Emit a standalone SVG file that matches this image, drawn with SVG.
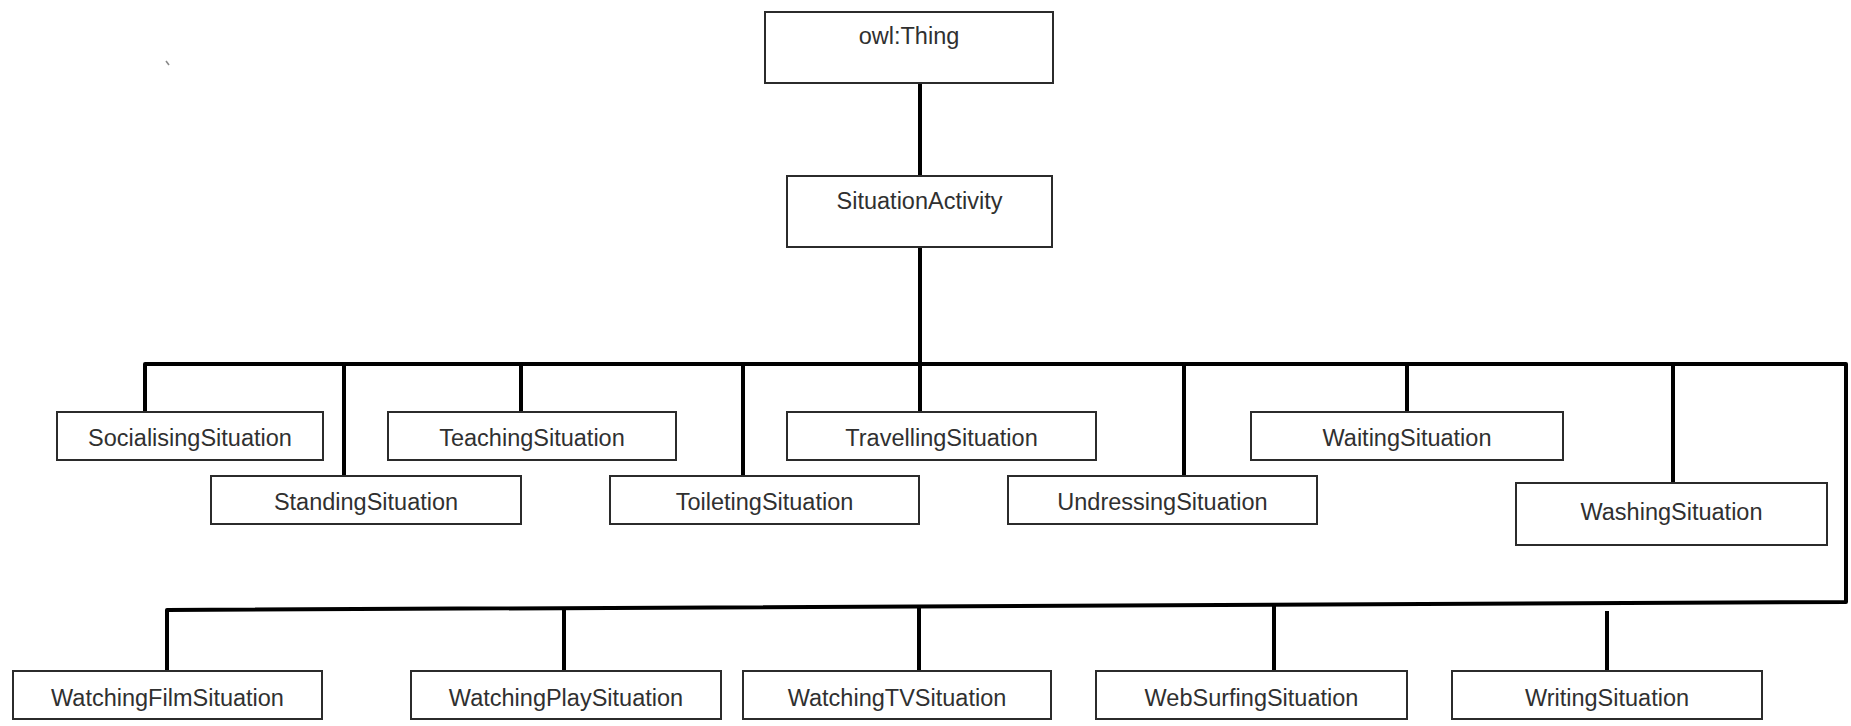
<svg xmlns="http://www.w3.org/2000/svg" width="1851" height="726" viewBox="0 0 1851 726">
<style>
  .box { fill: #ffffff; stroke: #2b2b2b; stroke-width: 2; }
  .lbl { font-family: "Liberation Sans", Arial, sans-serif; font-size: 23.5px; fill: #303030; text-anchor: middle; }
  .con { fill: none; stroke: #000000; stroke-width: 4; stroke-linecap: butt; stroke-linejoin: round; }
</style>
<rect x="0" y="0" width="1851" height="726" fill="#ffffff"/>
<line x1="166" y1="61" x2="169" y2="65" stroke="#888888" stroke-width="1.5"/>

<g id="connectors">
  <line class="con" x1="920" y1="83" x2="920" y2="176"/>
  <line class="con" x1="920" y1="247" x2="920" y2="412"/>
  <polyline class="con" points="145,412 145,364 1846,364 1846,602 167,610 167,671"/>
  <line class="con" x1="344" y1="364" x2="344" y2="476"/>
  <line class="con" x1="521" y1="364" x2="521" y2="412"/>
  <line class="con" x1="743" y1="364" x2="743" y2="476"/>
  <line class="con" x1="1184" y1="364" x2="1184" y2="476"/>
  <line class="con" x1="1407" y1="364" x2="1407" y2="412"/>
  <line class="con" x1="1673" y1="364" x2="1673" y2="483"/>
  <line class="con" x1="564" y1="608" x2="564" y2="671"/>
  <line class="con" x1="919" y1="606" x2="919" y2="671"/>
  <line class="con" x1="1274" y1="605" x2="1274" y2="671"/>
  <line class="con" x1="1607" y1="611" x2="1607" y2="671"/>
</g>

<g id="owlThing">
  <rect class="box" x="765" y="12" width="288" height="71"/>
  <text class="lbl" x="909" y="44">owl:Thing</text>
</g>
<g id="SituationActivity">
  <rect class="box" x="787" y="176" width="265" height="71"/>
  <text class="lbl" x="919.5" y="209">SituationActivity</text>
</g>

<g id="SocialisingSituation">
  <rect class="box" x="57" y="412" width="266" height="48"/>
  <text class="lbl" x="190" y="446">SocialisingSituation</text>
</g>
<g id="TeachingSituation">
  <rect class="box" x="388" y="412" width="288" height="48"/>
  <text class="lbl" x="532" y="446">TeachingSituation</text>
</g>
<g id="TravellingSituation">
  <rect class="box" x="787" y="412" width="309" height="48"/>
  <text class="lbl" x="941.5" y="446">TravellingSituation</text>
</g>
<g id="WaitingSituation">
  <rect class="box" x="1251" y="412" width="312" height="48"/>
  <text class="lbl" x="1407" y="446">WaitingSituation</text>
</g>

<g id="StandingSituation">
  <rect class="box" x="211" y="476" width="310" height="48"/>
  <text class="lbl" x="366" y="510">StandingSituation</text>
</g>
<g id="ToiletingSituation">
  <rect class="box" x="610" y="476" width="309" height="48"/>
  <text class="lbl" x="764.5" y="510">ToiletingSituation</text>
</g>
<g id="UndressingSituation">
  <rect class="box" x="1008" y="476" width="309" height="48"/>
  <text class="lbl" x="1162.5" y="510">UndressingSituation</text>
</g>
<g id="WashingSituation">
  <rect class="box" x="1516" y="483" width="311" height="62"/>
  <text class="lbl" x="1671.5" y="520">WashingSituation</text>
</g>

<g id="WatchingFilmSituation">
  <rect class="box" x="13" y="671" width="309" height="48"/>
  <text class="lbl" x="167.5" y="706">WatchingFilmSituation</text>
</g>
<g id="WatchingPlaySituation">
  <rect class="box" x="411" y="671" width="310" height="48"/>
  <text class="lbl" x="566" y="706">WatchingPlaySituation</text>
</g>
<g id="WatchingTVSituation">
  <rect class="box" x="743" y="671" width="308" height="48"/>
  <text class="lbl" x="897" y="706">WatchingTVSituation</text>
</g>
<g id="WebSurfingSituation">
  <rect class="box" x="1096" y="671" width="311" height="48"/>
  <text class="lbl" x="1251.5" y="706">WebSurfingSituation</text>
</g>
<g id="WritingSituation">
  <rect class="box" x="1452" y="671" width="310" height="48"/>
  <text class="lbl" x="1607" y="706">WritingSituation</text>
</g>
</svg>
